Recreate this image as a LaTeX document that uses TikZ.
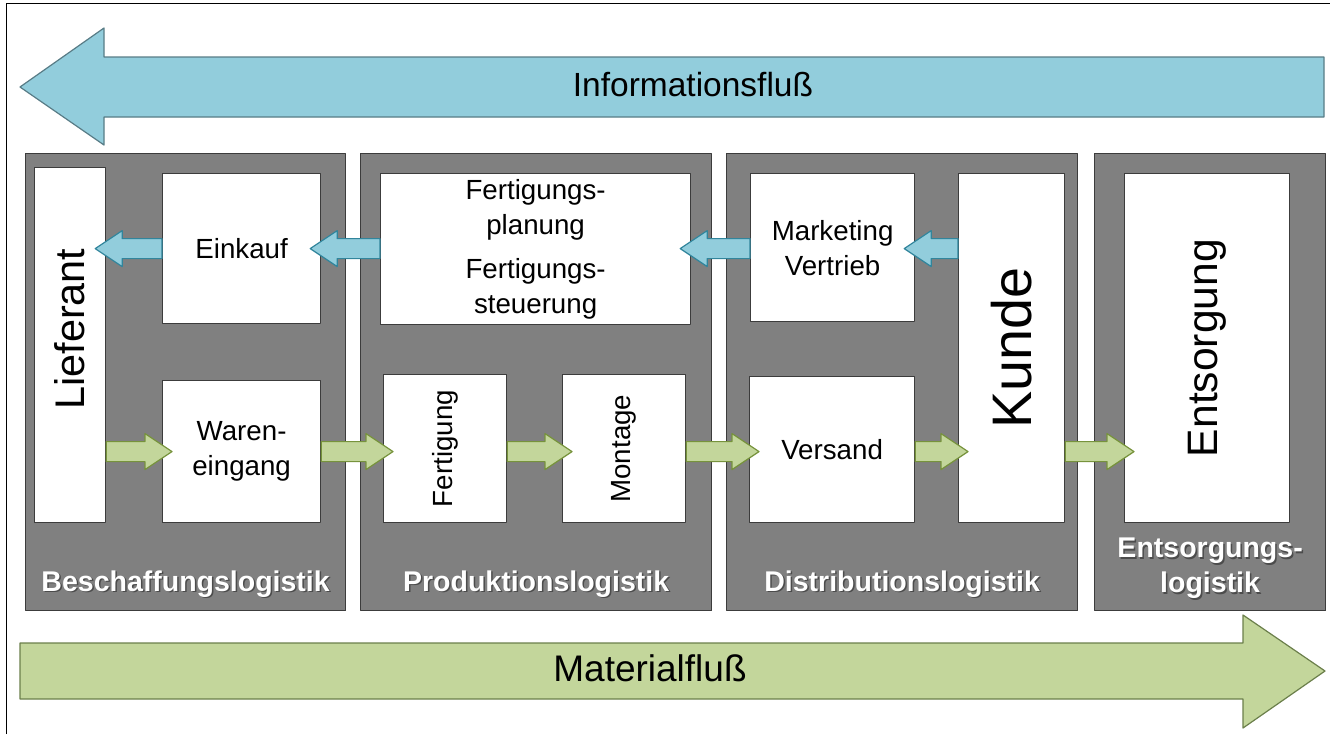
\documentclass[tikz,border=0pt]{standalone}
\usepackage{fontspec}
\setmainfont{Liberation Sans}
\usepackage{graphicx}
\usetikzlibrary{calc}
\definecolor{infoblue}{HTML}{92CDDC}
\definecolor{infoline}{HTML}{31859C}
\definecolor{infobigline}{HTML}{587C86}
\definecolor{matgreen}{HTML}{C3D69B}
\definecolor{matline}{HTML}{77933C}
\definecolor{matbigline}{HTML}{6B7F4B}
\definecolor{panelgray}{HTML}{808080}
\definecolor{edgegray}{HTML}{3C3C3C}
\newcommand{\fatarrow}[3]{%
	\draw[#1] let \p1=#2, \p2=#3, \p3=($(\p2)!27pt!(\p1)$) in
		(\x1,\y1+10pt) -- (\x3,\y1+10pt) -- (\x3,\y1+18pt) -- (\p2) -- (\x3,\y1-18pt) -- (\x3,\y1-10pt) -- (\x1,\y1-10pt) -- cycle;}
\begin{document}
\begin{tikzpicture}[x=1pt,y=-1pt,line join=round,
	panel/.style={draw=edgegray,fill=panelgray,line width=1.2pt,anchor=north west,inner sep=0pt},
	box/.style={draw=edgegray,fill=white,line width=1.2pt,anchor=north west,inner sep=0pt,align=center,font=\fontsize{27.7}{35}\selectfont},
	paneltitle/.style={text=white,align=center,font=\bfseries\fontsize{28.5}{35}\selectfont},
	titleshadow/.style={text=black!70,align=center,font=\bfseries\fontsize{28.5}{35}\selectfont},
	infoarrow/.style={draw=infoline,fill=infoblue,line width=1.2pt},
	matarrow/.style={draw=matline,fill=matgreen,line width=1.2pt}]
	\useasboundingbox (0,0) rectangle (1330,734);
	\draw[line width=1pt] (6,734) -- (6,3) -- (1330,3);
	\draw[infoarrow,draw=infobigline] (20,87) -- (104,28) -- (104,57) -- (1324,57) -- (1324,117) -- (104,117) -- (104,145) -- cycle;
	\node[font=\fontsize{33.5}{40}\selectfont] (infotext) at (693,85) {Informationsfluß};
	\draw[matarrow,draw=matbigline] (20,643) -- (1243,643) -- (1243,615) -- (1325,671) -- (1243,728) -- (1243,699) -- (20,699) -- cycle;
	\node[font=\fontsize{37}{44}\selectfont] (mattext) at (650,668) {Materialfluß};
	\node[panel,minimum width=320pt,minimum height=457pt] (beschaffung) at (25,153) {};
	\node[panel,minimum width=351pt,minimum height=457pt] (produktion) at (360,153) {};
	\node[panel,minimum width=351pt,minimum height=457pt] (distribution) at (726,153) {};
	\node[panel,minimum width=231pt,minimum height=457pt] (entsorgungp) at (1094,153) {};
	\foreach \p/\t/\s in {beschaffung/Beschaffungslogistik/27.5,produktion/Produktionslogistik/27.5,distribution/Distributionslogistik/27.5,entsorgungp/{Entsorgungs-\\logistik}/42.5}{
		\node[titleshadow] (\p-shadow) at ([xshift=1.5pt,yshift={\s-1.5}]\p.south) {\t};
		\node[paneltitle] (\p-title) at ([yshift=\s]\p.south) {\t};
	}
	\node[box,minimum width=71pt,minimum height=355pt,font=\fontsize{41.4}{48}\selectfont] (lieferant) at (34,167) {\rotatebox{90}{\hspace*{32pt}Lieferant}};
	\node[box,minimum width=158pt,minimum height=150pt] (einkauf) at (162,173) {Einkauf};
	\node[box,minimum width=158pt,minimum height=142pt] (wareneingang) at (162,380) {Waren-\\eingang};
	\node[box,minimum width=310pt,minimum height=151pt] (planung) at (380,173) {Fertigungs-\\planung\\[9pt]Fertigungs-\\steuerung};
	\node[box,minimum width=123pt,minimum height=148pt] (fertigung) at (383,374) {\rotatebox{90}{Fertigung}};
	\node[box,minimum width=123pt,minimum height=148pt] (montage) at (562,374) {\rotatebox{90}{Montage}};
	\node[box,minimum width=164pt,minimum height=148pt] (marketing) at (750,173) {Marketing\\Vertrieb};
	\node[box,minimum width=165pt,minimum height=146pt] (versand) at (749,376) {Versand};
	\node[box,minimum width=106pt,minimum height=349pt,font=\fontsize{55.7}{62}\selectfont] (kunde) at (958,173) {\rotatebox{90}{Kunde}};
	\node[box,minimum width=165pt,minimum height=349pt,font=\fontsize{42.6}{50}\selectfont] (entsorgung) at (1124,173) {\rotatebox{90}{Entsorgung}};
	\foreach \a/\b in {einkauf/lieferant,planung/einkauf,marketing/planung,kunde/marketing}{
		\fatarrow{infoarrow}{(\a.west |- einkauf.west)}{($(\b.east |- einkauf.west)+(-11,0)$)}
	}
	\foreach \a/\b in {lieferant/wareneingang,wareneingang/fertigung,fertigung/montage,montage/versand,versand/kunde,kunde/entsorgung}{
		\fatarrow{matarrow}{(\a.east |- wareneingang.east)}{($(\b.west |- wareneingang.east)+(10,0)$)}
	}
\end{tikzpicture}
\end{document}
